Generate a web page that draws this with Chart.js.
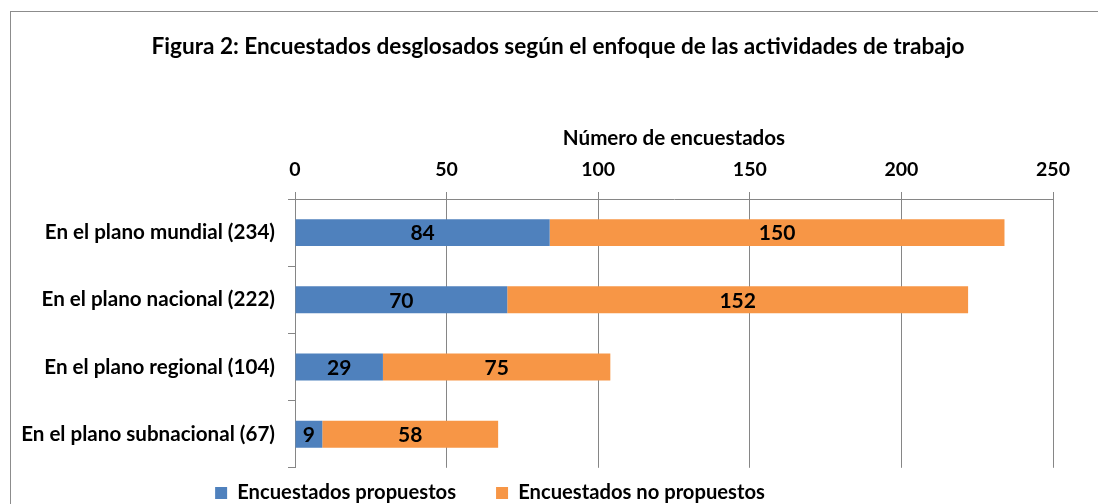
<!DOCTYPE html>
<html><head><meta charset="utf-8">
<script src="https://cdn.jsdelivr.net/npm/chart.js@4.4.1/dist/chart.umd.min.js"></script>
<style>
html,body{margin:0;padding:0;overflow:hidden;background:#fff;width:1098px;height:504px;}
#box{position:absolute;left:10px;top:11px;width:1094px;height:540px;border:1px solid #8c8c8c;background:#fff;}
#box canvas{display:block}
</style></head><body>
<div id="box"><canvas id="c" width="1094" height="540"></canvas></div>
<script>
const titleText = 'Figura 2: Encuestados desglosados según el enfoque de las actividades de trabajo';
const axisTitle = 'Número de encuestados';
const categories = ['En el plano mundial (234)', 'En el plano nacional (222)', 'En el plano regional (104)', 'En el plano subnacional (67)'];
const seriesNames = ['Encuestados propuestos', 'Encuestados no propuestos'];
const proposed = [84, 70, 29, 9];
const notProposed = [150, 152, 75, 58];
const xMin = 0, xMax = 250, xStep = 50;

const FONT = 'Lato, "Open Sans", sans-serif';
const fTitle = 22.6, fAxisTitle = 20.6, fTick = 19.5, fCat = 20.6, fData = 21, fLegend = 20.2;
const LH = 1.2;
// target geometry (canvas coordinates)
const areaTop = 187, areaLeft = 284;
const titleCenter = 35, axisTitleCenter = 126, tickCenter = 158;
const titlePadTop = titleCenter - fTitle * LH / 2;
const titleBox = titlePadTop + fTitle * LH;
const tickLen = 7;

const dataLabels = {
  id: 'dataLabels',
  afterDatasetsDraw(chart) {
    const ctx = chart.ctx;
    ctx.save();
    ctx.font = 'bold ' + fData + 'px ' + FONT;
    ctx.fillStyle = '#000';
    ctx.textAlign = 'center';
    ctx.textBaseline = 'middle';
    chart.data.datasets.forEach((ds, i) => {
      chart.getDatasetMeta(i).data.forEach((el, j) => {
        const cx = (el.x + el.base) / 2;
        ctx.fillText(String(ds.data[j]), cx, el.y + 1);
      });
    });
    ctx.restore();
  }
};
const shiftBlocks = {
  id: 'shiftBlocks',
  afterLayout(chart) {
    const lg = chart.legend;
    lg.left -= 42; lg.right -= 42;
    lg.top -= 25; lg.bottom -= 25;
    const tb = chart.titleBlock;
    tb.left += 26; tb.right += 26;
  }
};

new Chart(document.getElementById('c'), {
  type: 'bar',
  data: {
    labels: categories,
    datasets: [
      { label: seriesNames[0], data: proposed, backgroundColor: '#4F81BD', borderWidth: 0 },
      { label: seriesNames[1], data: notProposed, backgroundColor: '#F79646', borderWidth: 0 }
    ]
  },
  options: {
    indexAxis: 'y',
    responsive: false,
    animation: false,
    devicePixelRatio: 1,
    categoryPercentage: 1,
    barPercentage: 0.4,
    layout: { padding: { left: 0, right: 52, top: 0, bottom: 14 } },
    scales: {
      x: {
        position: 'top', stacked: true, min: xMin, max: xMax,
        ticks: { stepSize: xStep, color: '#000', font: { family: FONT, size: fTick, weight: 'bold' }, padding: (areaTop - tickCenter) - tickLen - fTick * LH / 2 },
        grid: { color: '#868686', lineWidth: 1, tickLength: tickLen, drawTicks: true },
        border: { color: '#868686' },
        title: { display: true, text: axisTitle, color: '#000', font: { family: FONT, size: fAxisTitle, weight: 'bold' },
                 padding: { top: axisTitleCenter - titleBox - fAxisTitle * LH / 2, bottom: 0 } },
        afterFit(s) { s.height = areaTop - titleBox; }
      },
      y: {
        stacked: true,
        ticks: { color: '#000', font: { family: FONT, size: fCat, weight: 'bold' }, padding: 13 },
        grid: { offset: true, drawOnChartArea: false, color: '#868686', tickLength: tickLen },
        border: { color: '#868686' },
        afterFit(s) { s.width = areaLeft; }
      }
    },
    plugins: {
      title: { display: true, text: titleText, color: '#000', font: { family: FONT, size: fTitle, weight: 'bold' },
               padding: { top: titlePadTop, bottom: 0 } },
      legend: { position: 'bottom', labels: { color: '#000', boxWidth: 12, boxHeight: 12, padding: 40,
                font: { family: FONT, size: fLegend, weight: 'bold' } } },
      tooltip: { enabled: false }
    }
  },
  plugins: [dataLabels, shiftBlocks]
});
</script>
</body></html>
